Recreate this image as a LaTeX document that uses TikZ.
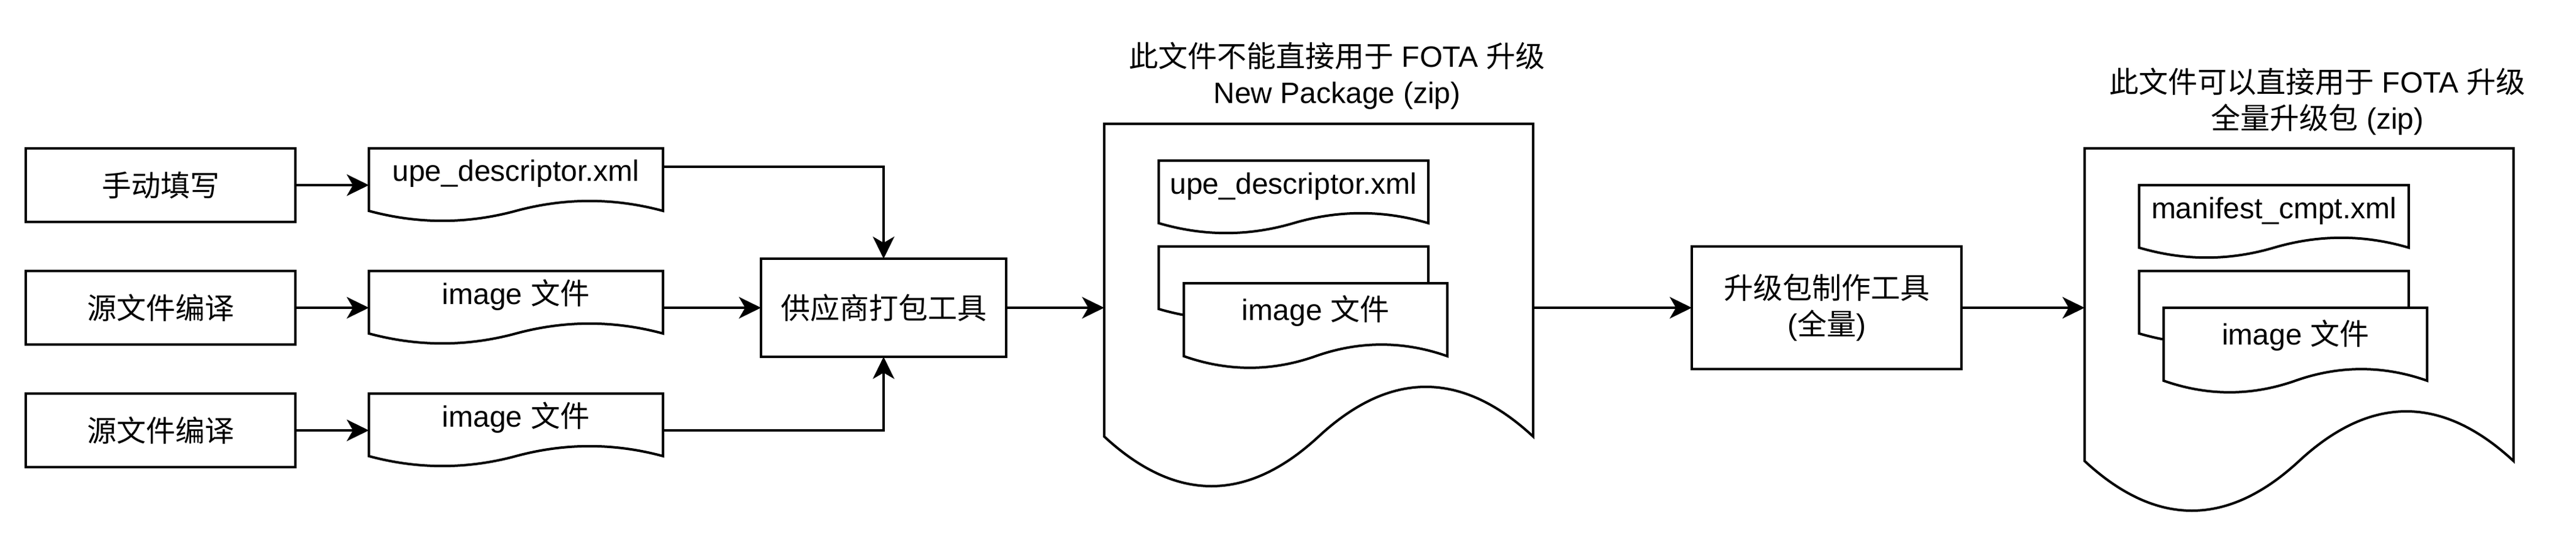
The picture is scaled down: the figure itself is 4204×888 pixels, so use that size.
\documentclass[tikz,border=0pt]{standalone}
\usepackage{fontspec}
\setmainfont{Liberation Sans}
\newfontfamily\cjk{Noto Sans CJK SC}
\usetikzlibrary{arrows.meta,calc}

% document frame: name, x, y (top left, px), width, height (px)
\newcommand\docframe[5]{%
  \pgfmathsetmacro\dw{#4*0.25}%
  \pgfmathsetmacro\dh{#5*0.25}%
  \node[docbox, minimum width=\dw pt, minimum height=\dh pt, anchor=north west] (#1) at (#2,#3) {};
  \begin{scope}[shift={(#2,#3)}, x=\dw pt, y=-\dh pt]
    \draw[docline] (0,0) -- (1,0) -- (1,0.85)
      .. controls (5/6,0.67) and (2/3,0.67) .. (0.5,0.85)
      .. controls (1/3,1.03) and (1/6,1.03) .. (0,0.85) -- cycle;
  \end{scope}
}
% document with label: name, x, y, w, h, baseline offset, text
\newcommand\docshape[7]{%
  \docframe{#1}{#2}{#3}{#4}{#5}%
  \node[lbl] (#1-t) at ($(#1.north)+(0,#6)$) {#7};
}

\begin{document}
\begin{tikzpicture}[x=0.25pt,y=-0.25pt,
  every node/.style={font=\fontsize{12}{14.75}\selectfont, inner sep=0pt, outer sep=0pt},
  box/.style={draw, line width=1pt, fill=white, align=center, minimum width=110pt, minimum height=30pt},
  docbox/.style={draw=none},
  docline/.style={draw, line width=1pt, fill=white, line join=miter},
  lbl/.style={anchor=base, align=center},
  conn/.style={line width=1pt, -{Stealth[length=9pt,width=8.75pt,inset=2.5pt]}}
]
\fill[white] (0,0) rectangle (4204,888);
\useasboundingbox (0,0) rectangle (4204,888);

% left column
\node[box] (manual) at (262,302) {\cjk 手动填写};
\node[box] (src1) at (262,502) {\cjk 源文件编译};
\node[box] (src2) at (262,702) {\cjk 源文件编译};

\docshape{upe}{602}{242}{480}{120}{54}{upe\_descriptor.xml}
\docshape{img1}{602}{442}{480}{120}{54}{image {\cjk 文件}}
\docshape{img2}{602}{642}{480}{120}{54}{image {\cjk 文件}}

\node[box, minimum width=100pt, minimum height=40pt] (vendor) at (1442,502) {\cjk 供应商打包工具};

% package 1
\docframe{pkg1}{1802}{202}{700}{600}
\node[lbl] (title1) at (2182,169) {{\cjk 此文件不能直接用于} FOTA {\cjk 升级}\\New Package (zip)};
\docshape{upe2}{1891}{262}{440}{120}{54}{upe\_descriptor.xml}
\docframe{imgb1}{1891}{402}{440}{120}
\docshape{imgf1}{1932}{462}{430}{140}{60}{image {\cjk 文件}}

% tool
\node[box, minimum width=110pt, minimum height=50pt] (tool) at (2981,502) {{\cjk 升级包制作工具}\\({\cjk 全量})};

% package 2
\docframe{pkg2}{3402}{242}{700}{600}
\node[lbl] (title2) at (3782,210) {{\cjk 此文件可以直接用于} FOTA {\cjk 升级}\\{\cjk 全量升级包} (zip)};
\docshape{mani}{3491}{302}{440}{120}{54}{manifest\_cmpt.xml}
\docframe{imgb2}{3491}{442}{440}{120}
\docshape{imgf2}{3531}{502}{430}{140}{60}{image {\cjk 文件}}

% connectors
\draw[conn] (manual) -- (upe);
\draw[conn] (src1) -- (img1);
\draw[conn] (src2) -- (img2);
\draw[conn] ($(upe.north east)+(0,30)$) -| (vendor.north);
\draw[conn] (img1) -- (vendor);
\draw[conn] ($(img2.north east)+(0,60)$) -| (vendor.south);
\draw[conn] (vendor) -- (pkg1);
\draw[conn] (pkg1) -- (tool);
\draw[conn] (tool.east) -- (tool.east -| pkg2.west);
\end{tikzpicture}
\end{document}
